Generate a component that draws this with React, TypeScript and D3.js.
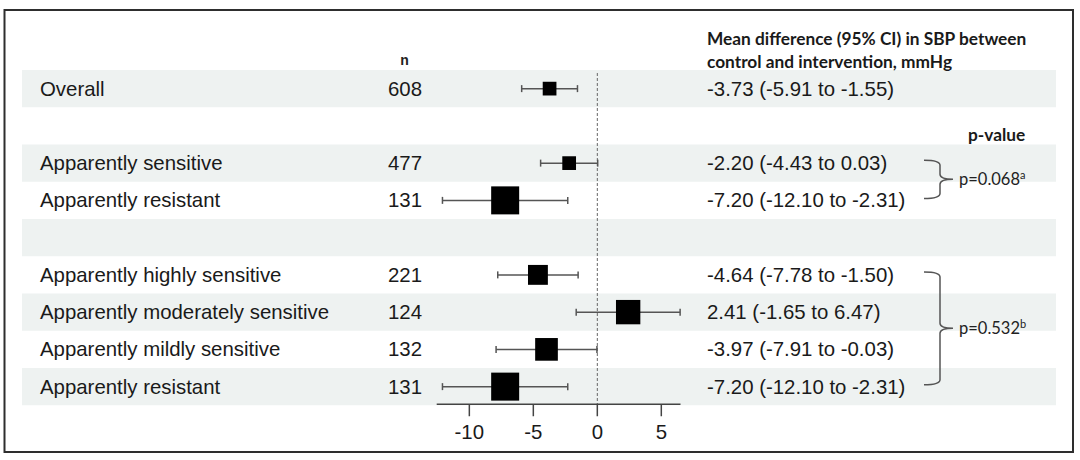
import * as d3 from 'd3'
import React from 'react'

// rows top to bottom; blank rows are spacers
const labels = ['Overall', '', 'Apparently sensitive', 'Apparently resistant', '', 'Apparently highly sensitive', 'Apparently moderately sensitive', 'Apparently mildly sensitive', 'Apparently resistant']
const ns = ['608', '', '477', '131', '', '221', '124', '132', '131']
const means = [-3.73, null, -2.20, -7.20, null, -4.64, 2.41, -3.97, -7.20]
const lowers = [-5.91, null, -4.43, -12.10, null, -7.78, -1.65, -7.91, -12.10]
const uppers = [-1.55, null, 0.03, -2.31, null, -1.50, 6.47, -0.03, -2.31]
const weights = [0.49, null, 0.49, 1.0, null, 0.71, 0.87, 0.81, 1.0]
const estimates = ['-3.73 (-5.91 to -1.55)', '', '-2.20 (-4.43 to 0.03)', '-7.20 (-12.10 to -2.31)', '', '-4.64 (-7.78 to -1.50)', '2.41 (-1.65 to 6.47)', '-3.97 (-7.91 to -0.03)', '-7.20 (-12.10 to -2.31)']
const ticks = [-10, -5, 0, 5]

const groups = [
  { first: 2, last: 3, p: 'p=0.068', sup: 'a' },
  { first: 5, last: 8, p: 'p=0.532', sup: 'b' },
]

const W = 1080, H = 460
const sans = '"Liberation Sans", Arial, sans-serif'
const head = 'Lato, "Open Sans", sans-serif'

export default function App() {
  const
    rows = labels.map((_, i) => i),
    y = d3.scaleBand<number>().domain(rows).range([70, 405.25]).padding(0),
    x = d3.scaleLinear().domain([-12.55, 6.5]).range([436.7, 680.5]),
    box = d3.scaleLinear().domain([0, 1]).range([0, 28]),
    mid = (i: number) => y(i)! + y.bandwidth() / 2,
    axisY = y.range()[1] - 1

  const brace = (g: typeof groups[0]) => {
    const x0 = 924, x1 = 940, tip = 953, r = 5
    const top = mid(g.first) - 3, bot = mid(g.last) - 2, m = (top + bot) / 2
    return `M${x0},${top} Q${x1},${top} ${x1},${top + r} L${x1},${m - r} Q${x1},${m} ${tip},${m} Q${x1},${m} ${x1},${m + r} L${x1},${bot - r} Q${x1},${bot} ${x0},${bot}`
  }

  return (
    <svg width={W} height={H} style={{ position: 'absolute', left: 0, top: 0, background: '#fff' }}>
      <rect x={4.5} y={10} width={1068.5} height={442} fill='none' stroke='#2e2e2e' strokeWidth={2} />

      {rows.filter(i => i % 2 === 0).map(i => (
        <rect key={i} x={22} y={y(i)} width={1034} height={y.bandwidth()} fill='#eef2f1' />
      ))}

      {/* headers */}
      <text x={404.5} y={65} textAnchor='middle' fontFamily={sans} fontWeight='bold' fontSize={14} fill='#222'>n</text>
      <g fontFamily={head} fontWeight='bold' fontSize={17.3} fill='#1a1a1a'>
        <text x={707} y={45}>Mean difference (95% CI) in SBP between</text>
        <text x={707} y={68}>control and intervention, mmHg</text>
        <text x={968} y={140.5}>p-value</text>
      </g>

      {/* reference line */}
      <line x1={x(0)} x2={x(0)} y1={73} y2={axisY} stroke='#666' strokeWidth={1} strokeDasharray='3,2' />

      {rows.map(i => (
        <g key={i} fontFamily={sans} fontSize={20.4} fill='#1a1a1a'>
          <text x={40} y={mid(i) + 7}>{labels[i]}</text>
          <text x={388} y={mid(i) + 7}>{ns[i]}</text>
          <text x={707} y={mid(i) + 7}>{estimates[i]}</text>
          {means[i] !== null && (
            <g>
              <line x1={x(lowers[i]!)} x2={x(uppers[i]!)} y1={mid(i)} y2={mid(i)} stroke='#555' strokeWidth={1.5} />
              <line x1={x(lowers[i]!)} x2={x(lowers[i]!)} y1={mid(i) - 3.5} y2={mid(i) + 3.5} stroke='#555' strokeWidth={1.5} />
              <line x1={x(uppers[i]!)} x2={x(uppers[i]!)} y1={mid(i) - 3.5} y2={mid(i) + 3.5} stroke='#555' strokeWidth={1.5} />
              <rect
                x={x(means[i]!) - box(weights[i]!) / 2}
                y={mid(i) - box(weights[i]!) / 2}
                width={box(weights[i]!)}
                height={box(weights[i]!)}
                fill='#000'
              />
            </g>
          )}
        </g>
      ))}

      {/* x axis */}
      <line x1={x.range()[0]} x2={x.range()[1]} y1={axisY} y2={axisY} stroke='#444' strokeWidth={1.5} />
      {ticks.map(t => (
        <g key={t}>
          <line x1={x(t)} x2={x(t)} y1={axisY} y2={axisY + 12} stroke='#444' strokeWidth={1.5} />
          <text x={x(t)} y={439} textAnchor='middle' fontFamily={sans} fontSize={20.4} fill='#1a1a1a'>{t}</text>
        </g>
      ))}

      {/* group braces and p-values */}
      {groups.map(g => {
        const m = (mid(g.first) - 3 + mid(g.last) - 2) / 2
        return (
          <g key={g.p}>
            <path d={brace(g)} fill='none' stroke='#555' strokeWidth={1.5} />
            <text x={959} y={m + 5.5} fontFamily={head} fontSize={16.5} fill='#222'>
              {g.p}<tspan fontSize={11} dy={-6}>{g.sup}</tspan>
            </text>
          </g>
        )
      })}
    </svg>
  )
}
